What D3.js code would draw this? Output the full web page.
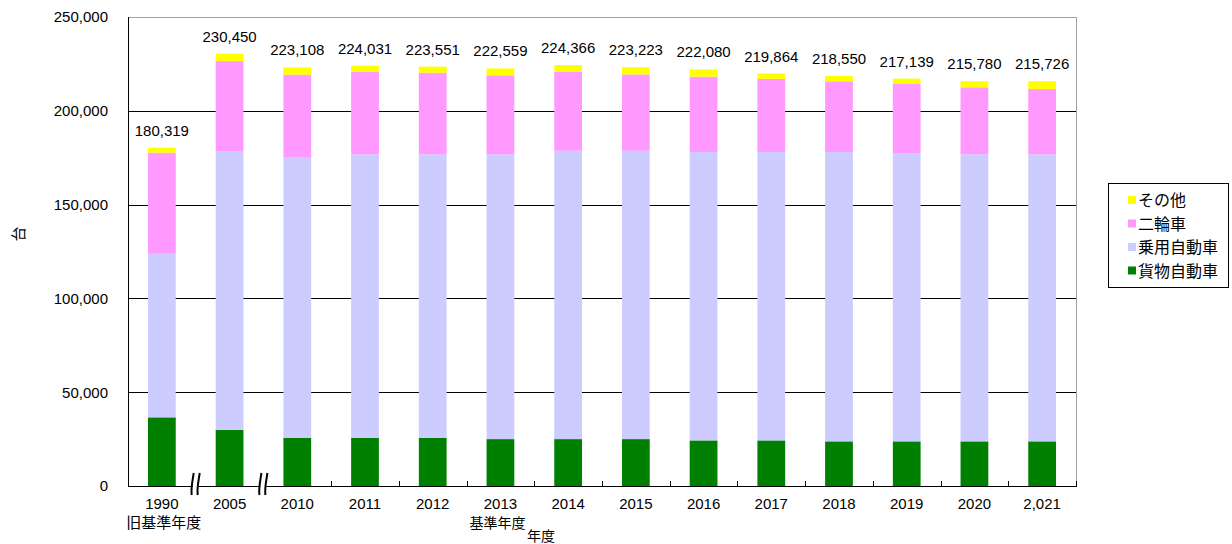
<!DOCTYPE html>
<html>
<head>
<meta charset="utf-8">
<script src="https://cdn.jsdelivr.net/npm/d3@7"></script>
<style>
  body { margin: 0; background: #fff; }
  svg text { font-family: "Liberation Sans", Arial, sans-serif; fill: #000; }
  .jp { font-family: "Noto Sans CJK JP", sans-serif; }
</style>
</head>
<body>
<svg id="chart" width="1232" height="544"></svg>
<script>
// data (台)
var years = ["1990", "2005", "2010", "2011", "2012", "2013", "2014", "2015", "2016", "2017", "2018", "2019", "2020", "2021"];
var yearLabels = ["1990", "2005", "2010", "2011", "2012", "2013", "2014", "2015", "2016", "2017", "2018", "2019", "2020", "2,021"];
var freight   = [36600, 29900, 25700, 25700, 25700, 25000, 25000, 25000, 24300, 24300, 23800, 23800, 23800, 23800];
var passenger = [87200, 148300, 149300, 151100, 151100, 151800, 153700, 153700, 153700, 153700, 154200, 153700, 153000, 153000];
var twoWheel  = [53900, 48300, 44300, 43900, 43500, 42100, 42100, 40700, 40200, 39000, 37700, 36800, 35700, 34800];
var other     = [2619, 3950, 3808, 3331, 3251, 3659, 3566, 3823, 3880, 2864, 2850, 2839, 3280, 4126];
var totals    = [180319, 230450, 223108, 224031, 223551, 222559, 224366, 223223, 222080, 219864, 218550, 217139, 215780, 215726];
var yTicks = [0, 50000, 100000, 150000, 200000, 250000];

var seriesNames = ["貨物自動車", "乗用自動車", "二輪車", "その他"];
var seriesColors = ["#008000", "#ccccff", "#ff99ff", "#ffff00"];

var svg = d3.select("#chart");
var plotLeft = 128, plotRight = 1076, plotTop = 17, plotBottom = 486;

var rows = years.map(function (y, i) {
    return { year: y, f: freight[i], p: passenger[i], t: twoWheel[i], o: other[i] };
});
var keys = ["f", "p", "t", "o"];

var xScale = d3.scaleBand()
    .domain(years)
    .range([plotLeft, plotRight])
    .paddingInner(0.59)
    .paddingOuter(0.295);

var yScale = d3.scaleLinear()
    .domain([0, 250000])
    .range([plotBottom, plotTop]);

// grid lines
svg.append("g")
    .selectAll("line")
    .data(yTicks.filter(function (d) { return d > 0 && d < 250000; }))
    .enter()
    .append("line")
    .attr("x1", plotLeft).attr("x2", plotRight)
    .attr("y1", function (d) { return Math.round(yScale(d)) + 0.5; })
    .attr("y2", function (d) { return Math.round(yScale(d)) + 0.5; })
    .attr("stroke", "#000")
    .attr("stroke-width", 1);

// top + right border (gray)
svg.append("path")
    .attr("d", "M" + plotLeft + "," + (yScale(250000) + 0.5) + "H" + (plotRight + 0.5) + "V" + plotBottom)
    .attr("fill", "none")
    .attr("stroke", "#a0a0a0")
    .attr("stroke-width", 1);

// stacked bars
var stacked = d3.stack().keys(keys)(rows);
svg.append("g")
    .selectAll("g")
    .data(stacked)
    .enter()
    .append("g")
    .attr("fill", function (d, i) { return seriesColors[i]; })
    .selectAll("rect")
    .data(function (d) { return d; })
    .enter()
    .append("rect")
    .attr("x", function (d) { return xScale(d.data.year); })
    .attr("width", xScale.bandwidth())
    .attr("y", function (d) { return yScale(d[1]); })
    .attr("height", function (d) { return yScale(d[0]) - yScale(d[1]); });

// total labels
svg.append("g")
    .selectAll("text")
    .data(totals)
    .enter()
    .append("text")
    .attr("x", function (d, i) { return xScale(years[i]) + xScale.bandwidth() / 2; })
    .attr("y", function (d) { return yScale(d) - 12; })
    .attr("text-anchor", "middle")
    .style("font-size", "15px")
    .text(d3.format(","));

// y axis
var yAxis = d3.axisLeft(yScale)
    .tickValues(yTicks)
    .tickSize(0)
    .tickPadding(20)
    .tickFormat(d3.format(","));
var yg = svg.append("g")
    .attr("transform", "translate(" + plotLeft + ",0)")
    .call(yAxis);
yg.attr("font-family", null).attr("font-size", null);
yg.select(".domain").attr("stroke", "#000").attr("d", "M0.5," + plotTop + "V" + plotBottom);
yg.selectAll("text").style("font-size", "15px");

// x axis line and ticks
var step = xScale.step();
svg.append("line")
    .attr("x1", plotLeft).attr("x2", plotRight + 1)
    .attr("y1", plotBottom + 0.5).attr("y2", plotBottom + 0.5)
    .attr("stroke", "#000");
var tickPos = d3.range(3, years.length + 1).map(function (k) { return plotLeft + step * k; });
svg.append("g")
    .selectAll("line")
    .data(tickPos)
    .enter()
    .append("line")
    .attr("x1", function (d) { return Math.round(d) + 0.5; })
    .attr("x2", function (d) { return Math.round(d) + 0.5; })
    .attr("y1", plotBottom).attr("y2", plotBottom - 5)
    .attr("stroke", "#000");

// axis breaks between 1990|2005 and 2005|2010
[1, 2].forEach(function (k) {
    var bx = plotLeft + step * k;
    var g = svg.append("g").attr("transform", "translate(" + bx + "," + plotBottom + ")");
    g.append("rect").attr("x", -3).attr("y", -12).attr("width", 6).attr("height", 22).attr("fill", "#fff");
    g.append("path")
        .attr("d", "M-4,9 C-5,2 -3,-6 -2,-13 M2,9 C1,2 3,-6 4,-13")
        .attr("fill", "none").attr("stroke", "#000").attr("stroke-width", 2);
});

// x labels
svg.append("g")
    .selectAll("text")
    .data(yearLabels)
    .enter()
    .append("text")
    .attr("x", function (d, i) { return xScale(years[i]) + xScale.bandwidth() / 2; })
    .attr("y", 509)
    .attr("text-anchor", "middle")
    .style("font-size", "15px")
    .text(function (d) { return d; });

svg.append("text").attr("class", "jp")
    .attr("x", xScale("1990") + xScale.bandwidth() / 2 + 2).attr("y", 528)
    .attr("text-anchor", "middle").style("font-size", "15px")
    .text("旧基準年度");
svg.append("text").attr("class", "jp")
    .attr("x", xScale("2013") + xScale.bandwidth() / 2 - 3).attr("y", 528)
    .attr("text-anchor", "middle").style("font-size", "14px")
    .text("基準年度");
svg.append("text").attr("class", "jp")
    .attr("x", 541).attr("y", 541)
    .attr("text-anchor", "middle").style("font-size", "14px")
    .text("年度");

// y axis title
svg.append("text").attr("class", "jp")
    .attr("transform", "translate(24,234) rotate(-90)")
    .attr("text-anchor", "middle").style("font-size", "15px")
    .text("台");

// legend
var legend = svg.append("g").attr("transform", "translate(1108,183)");
legend.append("rect")
    .attr("x", 0.5).attr("y", 0.5).attr("width", 120).attr("height", 104)
    .attr("fill", "#fff").attr("stroke", "#000");
var order = [3, 2, 1, 0];
order.forEach(function (s, i) {
    var cy = 17 + i * 23.5;
    legend.append("rect")
        .attr("x", 20).attr("y", cy - 4).attr("width", 8).attr("height", 8)
        .attr("fill", seriesColors[s]);
    legend.append("text").attr("class", "jp")
        .attr("x", 30).attr("y", cy + 6)
        .style("font-size", "16px")
        .text(seriesNames[s]);
});
</script>
</body>
</html>
